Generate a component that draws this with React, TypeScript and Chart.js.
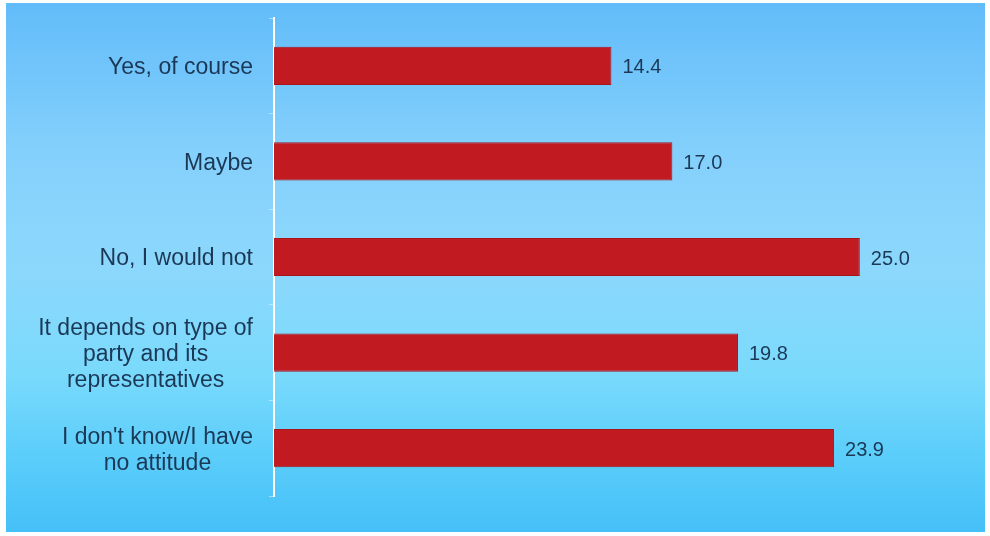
import React, { useEffect, useRef } from "react";
import { Chart, registerables } from "chart.js";

Chart.register(...registerables);

const categories: string[][] = [
  ["Yes, of course"],
  ["Maybe"],
  ["No, I would not"],
  ["It depends on type of", "party and its", "representatives"],
  ["I don't know/I have", "no attitude"],
];
const values: number[] = [14.4, 17.0, 25.0, 19.8, 23.9];

const FONT = '"Liberation Sans", Arial, sans-serif';
const TEXT_COLOR = "#1b3856";

const backgroundPlugin = {
  id: "bgGradient",
  beforeDraw(chart: any) {
    const { ctx, width, height } = chart;
    ctx.save();
    ctx.fillStyle = "#ffffff";
    ctx.fillRect(0, 0, width, height);
    const g = ctx.createLinearGradient(0, 3, 0, 532);
    g.addColorStop(0, "#62bcf9");
    g.addColorStop(0.28, "#84d0fc");
    g.addColorStop(0.5, "#8cd8fc");
    g.addColorStop(0.7, "#7adafc");
    g.addColorStop(0.85, "#5ccefa");
    g.addColorStop(1, "#45c0f8");
    ctx.fillStyle = g;
    ctx.fillRect(6, 3, 979, 529);
    ctx.restore();
  },
};

const labelsPlugin = {
  id: "catLabels",
  afterDraw(chart: any) {
    const { ctx } = chart;
    const yScale = chart.scales.y;
    const labels: string[][] = chart.data.labels;
    ctx.save();
    ctx.font = `23px ${FONT}`;
    ctx.fillStyle = TEXT_COLOR;
    ctx.textBaseline = "middle";
    ctx.textAlign = "center";
    const lineH = 26;
    const rightEdge = 253;
    labels.forEach((lines, i) => {
      const y = yScale.getPixelForValue(i) + 2;
      const maxW = Math.max(...lines.map((l) => ctx.measureText(l).width));
      const cx = rightEdge - maxW / 2;
      const startY = y - ((lines.length - 1) * lineH) / 2;
      lines.forEach((l, j) => {
        ctx.fillText(l, cx, startY + j * lineH);
      });
    });
    ctx.restore();
  },
};

const valueLabelsPlugin = {
  id: "valueLabels",
  afterDatasetsDraw(chart: any) {
    const { ctx } = chart;
    const meta = chart.getDatasetMeta(0);
    const data = chart.data.datasets[0].data as number[];
    ctx.save();
    ctx.font = `20px ${FONT}`;
    ctx.fillStyle = TEXT_COLOR;
    ctx.textBaseline = "middle";
    ctx.textAlign = "left";
    meta.data.forEach((bar: any, i: number) => {
      ctx.fillText(data[i].toFixed(1), bar.x + 11, bar.y + 2);
    });
    ctx.restore();
  },
};

export default function App() {
  const ref = useRef<HTMLCanvasElement | null>(null);
  useEffect(() => {
    document.body.style.margin = "0";
    if (!ref.current) return;
    const chart = new Chart(ref.current, {
      type: "bar",
      data: {
        labels: categories as any,
        datasets: [
          {
            data: values,
            backgroundColor: "#c21a21",
            borderColor: "#a8161c",
            borderWidth: 1,
            barPercentage: 0.8,
            categoryPercentage: 0.5,
          },
        ],
      },
      options: {
        indexAxis: "y",
        animation: false,
        responsive: false,
        maintainAspectRatio: false,
        layout: { padding: { left: 5, top: 18, bottom: 40, right: 13 } },
        plugins: {
          legend: { display: false },
          tooltip: { enabled: false },
          title: { display: false },
        },
        scales: {
          x: {
            display: false,
            min: 0,
            max: 30,
          },
          y: {
            display: true,
            offset: true,
            afterFit: (s: any) => {
              s.width = 269;
            },
            ticks: { display: false },
            grid: {
              offset: true,
              drawOnChartArea: false,
              drawTicks: true,
              tickLength: 5,
              color: "rgba(255,255,255,0.45)",
              lineWidth: 1,
            },
            border: { display: true, color: "#ffffff", width: 2 },
          },
        },
      },
      plugins: [backgroundPlugin, labelsPlugin, valueLabelsPlugin],
    });
    return () => chart.destroy();
  }, []);
  return (
    <div style={{ width: 990, height: 536 }}>
      <canvas ref={ref} width={990} height={536} style={{ display: "block" }} />
    </div>
  );
}
